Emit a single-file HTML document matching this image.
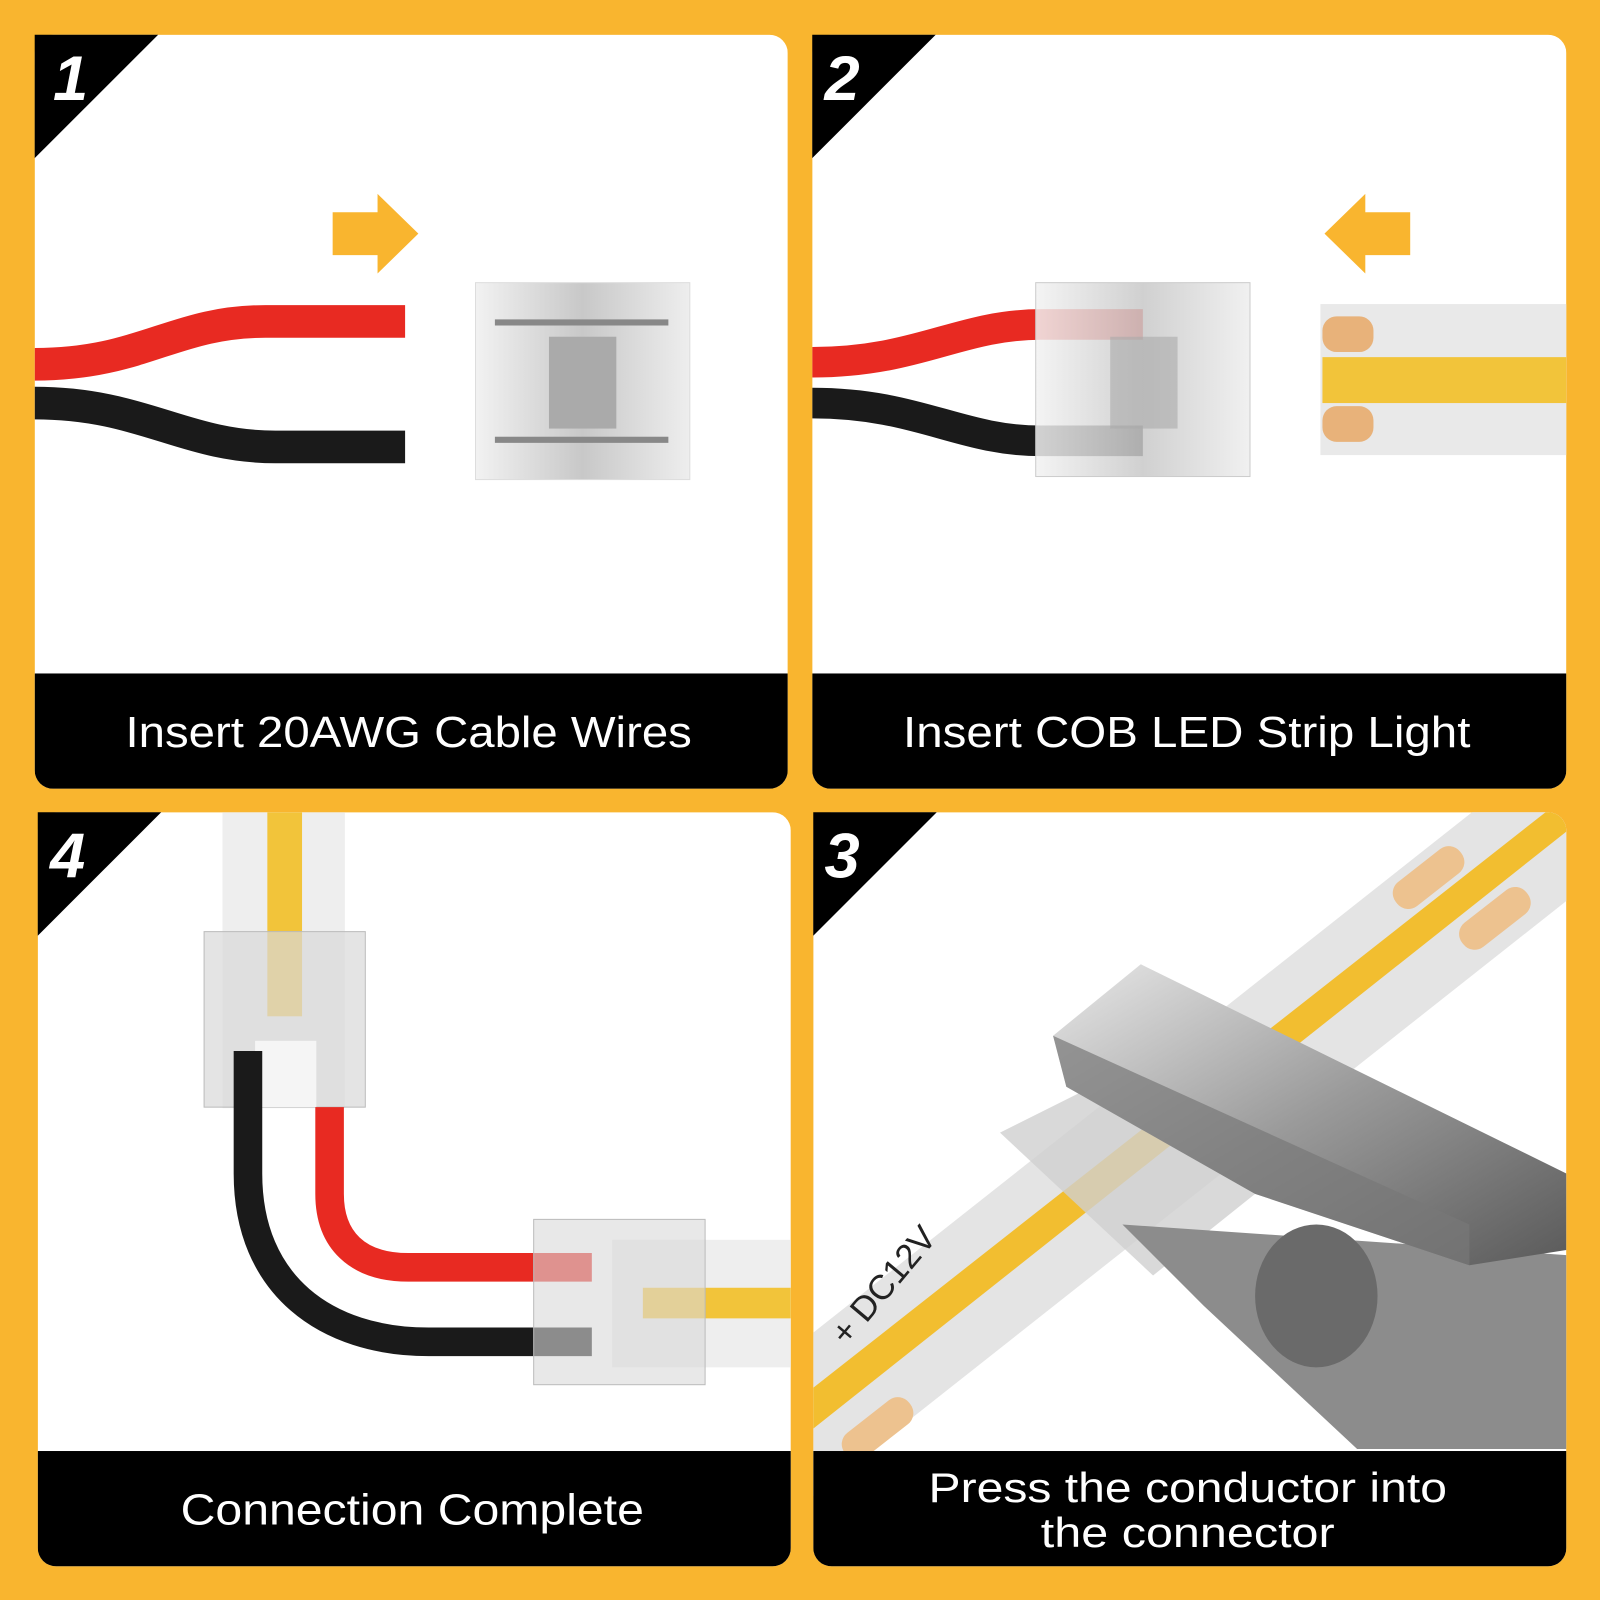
<!DOCTYPE html>
<html><head><style>
html,body{margin:0;padding:0;background:#F9B52F;}
svg{display:block}
text{font-family:"Liberation Sans",sans-serif}
</style></head><body>
<svg width="1600" height="1600" viewBox="0 0 1568 1568" preserveAspectRatio="none" xmlns="http://www.w3.org/2000/svg">
<defs>
<clipPath id="c1"><rect x="34" y="34" width="738" height="739" rx="18"/></clipPath>
<clipPath id="c2"><rect x="796" y="34" width="739" height="739" rx="18"/></clipPath>
<clipPath id="c4"><rect x="37" y="796" width="738" height="739" rx="18"/></clipPath>
<clipPath id="c3"><rect x="797" y="796" width="738" height="739" rx="18"/></clipPath>
<linearGradient id="silver" x1="0" y1="0" x2="1" y2="1">
<stop offset="0" stop-color="#e8e8e8"/><stop offset="0.5" stop-color="#9a9a9a"/><stop offset="1" stop-color="#5a5a5a"/></linearGradient>
<linearGradient id="conn" x1="0" y1="0" x2="1" y2="0">
<stop offset="0" stop-color="#f2f2f2"/><stop offset="0.5" stop-color="#c8c8c8"/><stop offset="1" stop-color="#eeeeee"/></linearGradient>
</defs>
<rect width="1568" height="1568" fill="#F9B52F"/>

<!-- Panel 1 -->
<g clip-path="url(#c1)">
<rect x="34" y="34" width="738" height="739" fill="#fff"/>
<path d="M34 357 C140 357 170 315 260 315 L397 315" stroke="#e82a22" stroke-width="32" fill="none"/>
<path d="M34 395 C140 395 180 438 270 438 L397 438" stroke="#1a1a1a" stroke-width="32" fill="none"/>
<polygon points="326,208 370,208 370,190 410,229 370,268 370,250 326,250" fill="#F9B52F"/>
<rect x="466" y="277" width="210" height="193" fill="url(#conn)" stroke="#ddd"/>
<rect x="538" y="330" width="66" height="90" fill="#aaa"/>
<rect x="485" y="313" width="170" height="6" fill="#888"/>
<rect x="485" y="428" width="170" height="6" fill="#888"/>
<rect x="34" y="660" width="738" height="113" fill="#000"/>
<text x="123" y="732" font-size="43" fill="#fff" textLength="555" lengthAdjust="spacingAndGlyphs">Insert 20AWG Cable Wires</text>
</g>
<polygon points="34,34 155,34 34,155" fill="#000"/>
<text x="52" y="98" font-size="62" font-weight="bold" font-style="italic" fill="#fff">1</text>

<!-- Panel 2 -->
<g clip-path="url(#c2)">
<rect x="796" y="34" width="739" height="739" fill="#fff"/>
<path d="M796 355 C900 355 940 318 1020 318 L1120 318" stroke="#e82a22" stroke-width="30" fill="none"/>
<path d="M796 395 C900 395 940 432 1020 432 L1120 432" stroke="#1a1a1a" stroke-width="30" fill="none"/>
<rect x="1015" y="277" width="210" height="190" fill="url(#conn)" fill-opacity="0.85" stroke="#ccc"/>
<rect x="1088" y="330" width="66" height="90" fill="#aaa" fill-opacity="0.6"/>
<rect x="1294" y="298" width="241" height="148" fill="#e9e9e9"/>
<rect x="1296" y="350" width="239" height="45" fill="#F2C43A"/>
<rect x="1296" y="310" width="50" height="35" rx="14" fill="#E8B27A"/>
<rect x="1296" y="398" width="50" height="35" rx="14" fill="#E8B27A"/>
<polygon points="1382,208 1338,208 1338,190 1298,229 1338,268 1338,250 1382,250" fill="#F9B52F"/>
<rect x="796" y="660" width="739" height="113" fill="#000"/>
<text x="885" y="732" font-size="43" fill="#fff" textLength="556" lengthAdjust="spacingAndGlyphs">Insert COB LED Strip Light</text>
</g>
<polygon points="796,34 917,34 796,155" fill="#000"/>
<text x="808" y="98" font-size="62" font-weight="bold" font-style="italic" fill="#fff">2</text>

<!-- Panel 4 -->
<g clip-path="url(#c4)">
<rect x="37" y="796" width="738" height="739" fill="#fff"/>
<rect x="218" y="796" width="120" height="290" fill="#eeeeee"/>
<rect x="262" y="796" width="34" height="200" fill="#F2C43A"/>
<rect x="200" y="913" width="158" height="172" fill="#d8d8d8" fill-opacity="0.7" stroke="#bbb"/>
<rect x="250" y="1020" width="60" height="65" fill="#f5f5f5"/>
<path d="M243 1030 L243 1150 C243 1260 320 1315 420 1315 L580 1315" stroke="#1a1a1a" stroke-width="28" fill="none"/>
<path d="M323 1085 L323 1170 C323 1215 350 1242 400 1242 L580 1242" stroke="#e82a22" stroke-width="28" fill="none"/>
<rect x="600" y="1215" width="175" height="125" fill="#eeeeee"/>
<rect x="630" y="1262" width="145" height="30" fill="#F2C43A"/>
<rect x="523" y="1195" width="168" height="162" fill="#d8d8d8" fill-opacity="0.6" stroke="#bbb"/>
<rect x="37" y="1422" width="738" height="113" fill="#000"/>
<text x="177" y="1494" font-size="43" fill="#fff" textLength="454" lengthAdjust="spacingAndGlyphs">Connection Complete</text>
</g>
<polygon points="37,796 158,796 37,917" fill="#000"/>
<text x="49" y="860" font-size="62" font-weight="bold" font-style="italic" fill="#fff">4</text>

<!-- Panel 3 -->
<g clip-path="url(#c3)">
<rect x="797" y="796" width="738" height="739" fill="#fff"/>
<polygon points="797,1306 1535,723 1535,883 797,1466" fill="#e4e4e4"/>
<polygon points="797,1360 1535,780 1535,815 797,1400" fill="#F2BE30"/>
<rect x="1360" y="845" width="80" height="30" rx="14" fill="#EDC28F" transform="rotate(-38 1400 860)"/>
<rect x="1425" y="885" width="80" height="30" rx="14" fill="#EDC28F" transform="rotate(-38 1465 900)"/>
<rect x="820" y="1385" width="80" height="30" rx="14" fill="#EDC28F" transform="rotate(-38 860 1400)"/>
<text x="830" y="1320" font-size="34" fill="#222" transform="rotate(-50 830 1320)">+ DC12V</text>
<polygon points="980,1110 1080,1060 1230,1170 1130,1250" fill="#d0d0d0" fill-opacity="0.8"/>
<polygon points="1100,1200 1535,1230 1535,1420 1330,1420 1180,1280" fill="#8c8c8c"/>
<ellipse cx="1290" cy="1270" rx="60" ry="70" fill="#6a6a6a"/>
<polygon points="1032,1015 1118,945 1535,1150 1535,1225 1440,1240 1230,1170 1045,1065" fill="url(#silver)"/>
<polygon points="1032,1015 1045,1065 1230,1170 1440,1240 1440,1200" fill="#777" fill-opacity="0.7"/>
<rect x="797" y="1422" width="738" height="113" fill="#000"/>
<text x="910" y="1472" font-size="41" fill="#fff" textLength="508" lengthAdjust="spacingAndGlyphs">Press the conductor into</text>
<text x="1020" y="1516" font-size="41" fill="#fff" textLength="288" lengthAdjust="spacingAndGlyphs">the connector</text>
</g>
<polygon points="797,796 918,796 797,917" fill="#000"/>
<text x="808" y="860" font-size="62" font-weight="bold" font-style="italic" fill="#fff">3</text>
</svg>
</body></html>
